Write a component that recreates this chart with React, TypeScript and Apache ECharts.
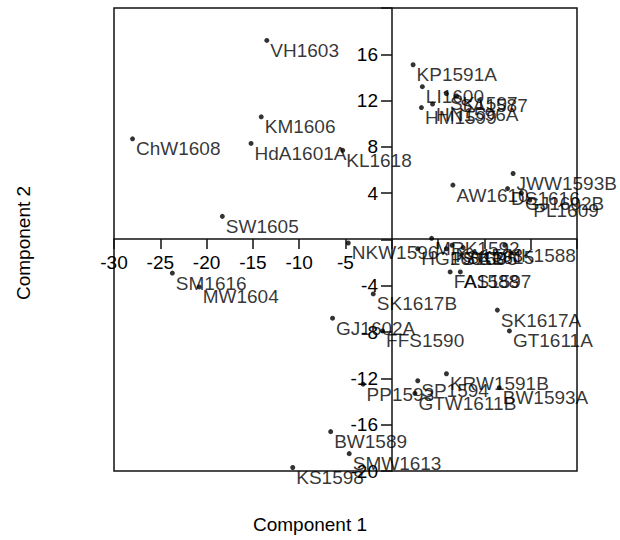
import React, { useEffect, useRef } from "react";
import * as echarts from "echarts";

const names = [
  "VH1603", "KM1606", "ChW1608", "HdA1601A", "KL1618", "SW1605", "NKW1596",
  "KP1591A", "LI1600", "HM1599", "HN1596A", "SK1597", "SA1587",
  "JWW1593B", "AW1610", "DS1616", "GJ1602B", "PL1609",
  "MRK1592", "HG1601B", "PS1595", "KA1593", "SK1615", "YK1588", "FA1588", "AS1597",
  "SM1616", "MW1604", "SK1617B", "GJ1602A", "FFS1590",
  "PP1593", "SP1594", "GTW1611B", "KRW1591B", "BW1593A",
  "BW1589", "SMW1613", "KS1598", "SK1617A", "GT1611A",
];
const xs = [
  -13.5, -14.1, -28.0, -15.2, -5.3, -18.3, -4.7,
  2.3, 3.3, 3.2, 4.4, 5.9, 7.0,
  13.1, 6.6, 12.5, 14.0, 14.9,
  4.3, 2.8, 5.9, 6.5, 7.7, 12.2, 6.3, 7.4,
  -23.7, -20.8, -2.0, -6.4, -1.0,
  -3.1, 2.8, 2.5, 5.9, 11.6,
  -6.6, -4.6, -10.7, 11.4, 12.7,
];
const ys = [
  17.2, 10.6, 8.7, 8.3, 7.7, 2.0, -0.3,
  15.1, 13.2, 11.4, 11.7, 12.6, 12.4,
  5.7, 4.7, 4.4, 4.0, 3.4,
  0.1, -0.8, -0.8, -0.5, -0.7, -0.5, -2.8, -2.8,
  -2.9, -4.1, -4.7, -6.8, -7.9,
  -12.5, -12.2, -13.3, -11.6, -12.8,
  -16.6, -18.5, -19.7, -6.1, -7.9,
];
const xTitle = "Component 1";
const yTitle = "Component 2";

const FONT = "'Liberation Sans', Arial, sans-serif";
const INK = "#000";

export default function App() {
  const ref = useRef<HTMLDivElement>(null);
  useEffect(() => {
    document.body.style.margin = "0";
    const chart = echarts.init(ref.current!, null, { renderer: "svg" });
    const data = names.map((n, i) => ({ name: n, value: [xs[i], ys[i]] }));
    chart.setOption({
      animation: false,
      textStyle: { fontFamily: FONT },
      grid: {
        left: 114, right: 43, top: 8, bottom: 69,
        show: true, borderColor: "#111", borderWidth: 1.5, backgroundColor: "transparent",
      },
      xAxis: {
        type: "value", min: -30, max: 20, interval: 5,
        position: "bottom", offset: -232,
        axisLine: { onZero: false, lineStyle: { color: "#111", width: 1.5 } },
        axisTick: { show: true, length: 10, lineStyle: { color: "#111", width: 1.5 } },
        axisLabel: {
          margin: 14, fontSize: 19, color: INK, fontFamily: FONT,
          formatter: (v: number) => (v < 0 ? String(v) : ""),
        },
        splitLine: { show: false },
      },
      yAxis: {
        type: "value", min: -20, max: 20, interval: 4,
        position: "left", offset: -278,
        axisLine: { onZero: false, lineStyle: { color: "#111", width: 1.5 } },
        axisTick: { show: true, length: 11, lineStyle: { color: "#111", width: 1.5 } },
        axisLabel: {
          margin: 14, fontSize: 19, color: INK, fontFamily: FONT,
          formatter: (v: number) => (v === 0 || v === 20 ? "" : String(v)),
        },
        splitLine: { show: false },
      },
      graphic: [
        {
          type: "text", left: "center", top: 515,
          style: { text: xTitle, fontSize: 19, fill: INK, fontFamily: FONT },
        },
        {
          type: "text", x: 14, y: 300, rotation: Math.PI / 2,
          style: { text: yTitle, fontSize: 19, fill: INK, fontFamily: FONT },
        },
      ],
      series: [
        {
          type: "scatter",
          data,
          symbol: "circle",
          symbolSize: 5,
          itemStyle: { color: "#000" },
          label: {
            show: true, position: "right", distance: 1, offset: [0, 10],
            formatter: "{b}", fontSize: 19, color: INK, fontFamily: FONT,
          },
        },
      ],
    });
    return () => chart.dispose();
  }, []);
  return <div ref={ref} style={{ width: 620, height: 540 }} />;
}
